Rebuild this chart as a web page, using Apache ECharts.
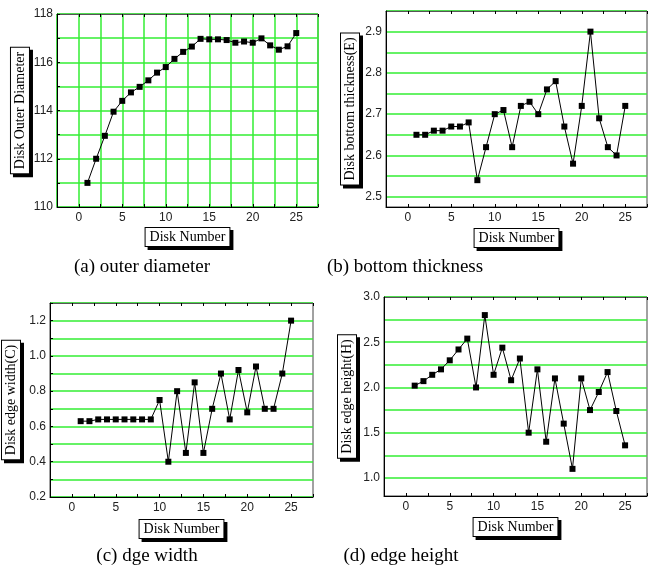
<!DOCTYPE html>
<html>
<head>
<meta charset="utf-8">
<script src="https://cdn.jsdelivr.net/npm/echarts@6/dist/echarts.min.js"></script>
<style>html,body{margin:0;padding:0;background:#fff}#c{width:650px;height:575px}</style>
</head>
<body>
<div id="c"></div>
<script>
const diskNumbers = [1,2,3,4,5,6,7,8,9,10,11,12,13,14,15,16,17,18,19,20,21,22,23,24,25];
const outerDiameter = [111.0,112.0,112.95,113.95,114.4,114.75,114.98,115.25,115.57,115.8,116.14,116.43,116.65,116.97,116.95,116.95,116.92,116.81,116.86,116.81,116.99,116.7,116.52,116.66,117.21];
const bottomThickness = [2.65,2.65,2.66,2.66,2.67,2.67,2.68,2.54,2.62,2.70,2.71,2.62,2.72,2.73,2.70,2.76,2.78,2.67,2.58,2.72,2.90,2.69,2.62,2.60,2.72];
const edgeWidth = [0.63,0.63,0.64,0.64,0.64,0.64,0.64,0.64,0.64,0.75,0.40,0.80,0.45,0.85,0.45,0.70,0.90,0.64,0.92,0.68,0.94,0.70,0.70,0.90,1.20];
const edgeHeight = [2.02,2.07,2.14,2.20,2.30,2.42,2.54,2.00,2.80,2.14,2.44,2.08,2.32,1.50,2.20,1.40,2.10,1.60,1.10,2.10,1.75,1.95,2.17,1.74,1.36];
const captions = ['(a) outer diameter','(b) bottom thickness','(c) dge width','(d) edge height'];
const yNames = ['Disk Outer Diameter','Disk bottom thickness(E)','Disk edge width(C)','Disk edge height(H)'];
const xName = 'Disk Number';

const GREEN = '#33ee33';
const T = 'rgba(0,0,0,0)';
const serif = 'Liberation Serif';
const sans = 'Liberation Sans';

const grids = [
  {left:57, top:14, width:261, height:193},
  {left:386, top:11, width:263, height:196},
  {left:49, top:303, width:264, height:194},
  {left:384, top:297, width:265, height:199}
];
const xGaps = [21, 22, 23, 22];
const yGaps = [25, 27, 30, 28];
const yCfg = [
  {min:110, max:118, interval:1, step:2, dec:0, colors:[GREEN], tick:true},
  {min:2.475, max:2.95, interval:0.025, step:0.1, dec:1, colors:[T, GREEN], tick:false},
  {min:0.2, max:1.3, interval:0.1, step:0.2, dec:1, colors:[GREEN], tick:true},
  {min:0.8, max:3.0, interval:0.05, step:0.5, dec:1, colors:[T,T,T,T,GREEN], tick:false}
];
const seriesData = [outerDiameter, bottomThickness, edgeWidth, edgeHeight];

function isMult(v, s){ const r = v / s; return Math.abs(r - Math.round(r)) < 1e-6; }

const nameBox = {
  fontFamily: serif, color:'#000', backgroundColor:'#fff', borderColor:'#000', borderWidth:1,
  padding:[2,4,2,4], shadowColor:'#000', shadowOffsetX:3, shadowOffsetY:3, shadowBlur:0.01
};

const xAxes = [], yAxes = [], series = [], titles = [];
grids.forEach((g, i) => {
  xAxes.push({
    type:'value', gridIndex:i, min:-2.5, max:27.5, interval:2.5, position:'bottom',
    name:xName, nameLocation:'middle', nameGap:xGaps[i],
    nameTextStyle:Object.assign({fontSize:14}, nameBox),
    axisLine:{show:true, onZero:false, lineStyle:{color:'#000', width:1}},
    axisTick:{show:true, inside:true, length:3, lineStyle:{color:'#000'}},
    axisLabel:{margin:5, fontFamily:sans, fontSize:12, color:'#222',
      formatter:v => isMult(v,5) ? String(Math.round(v)) : ''},
    splitLine:{show:i===0, lineStyle:{color:GREEN, width:1.5}}
  });
  xAxes.push({
    type:'value', gridIndex:i, min:-2.5, max:27.5, interval:2.5, position:'top',
    axisLine:{show:true, onZero:false, lineStyle:{color:'#555', width:1}},
    axisTick:{show:true, inside:true, length:3, lineStyle:{color:'#000'}},
    axisLabel:{show:false}, splitLine:{show:false}
  });
  const c = yCfg[i];
  yAxes.push({
    type:'value', gridIndex:i, min:c.min, max:c.max, interval:c.interval,
    name:yNames[i], nameLocation:'middle', nameGap:yGaps[i], nameRotate:90,
    nameTextStyle:Object.assign({fontSize:14}, nameBox),
    axisLine:{show:true, onZero:false, lineStyle:{color:'#000', width:1}},
    axisTick:{show:c.tick, inside:true, length:3, lineStyle:{color:'#000'}},
    axisLabel:{margin:4, fontFamily:sans, fontSize:12, color:'#222',
      formatter:v => isMult(v, c.step) ? v.toFixed(c.dec) : ''},
    splitLine:{show:true, lineStyle:{color:c.colors, width:1.5}}
  });
  series.push({
    type:'line', xAxisIndex:i*2, yAxisIndex:i,
    data: diskNumbers.map((n, k) => [n, seriesData[i][k]]),
    symbol:'rect', symbolSize:6, showSymbol:true,
    lineStyle:{color:'#000', width:1}, itemStyle:{color:'#000'},
    animation:false, z:5
  });
});
titles.push(
  {text:captions[0], left:142, top:258, textAlign:'center'},
  {text:captions[1], left:405, top:258, textAlign:'center'},
  {text:captions[2], left:147, top:547, textAlign:'center'},
  {text:captions[3], left:401, top:547, textAlign:'center'}
);
titles.forEach(t => { t.textStyle = {fontFamily:serif, fontSize:19, fontWeight:'normal', color:'#000'}; t.padding = 0; });

const chart = echarts.init(document.getElementById('c'), null, {renderer:'canvas'});
chart.setOption({
  animation:false,
  backgroundColor:'#fff',
  title: titles,
  grid: grids.map(g => Object.assign({show:true, borderColor:'#444', borderWidth:1, backgroundColor:'transparent'}, g)),
  xAxis: xAxes,
  yAxis: yAxes,
  series: series
});
</script>
</body>
</html>
